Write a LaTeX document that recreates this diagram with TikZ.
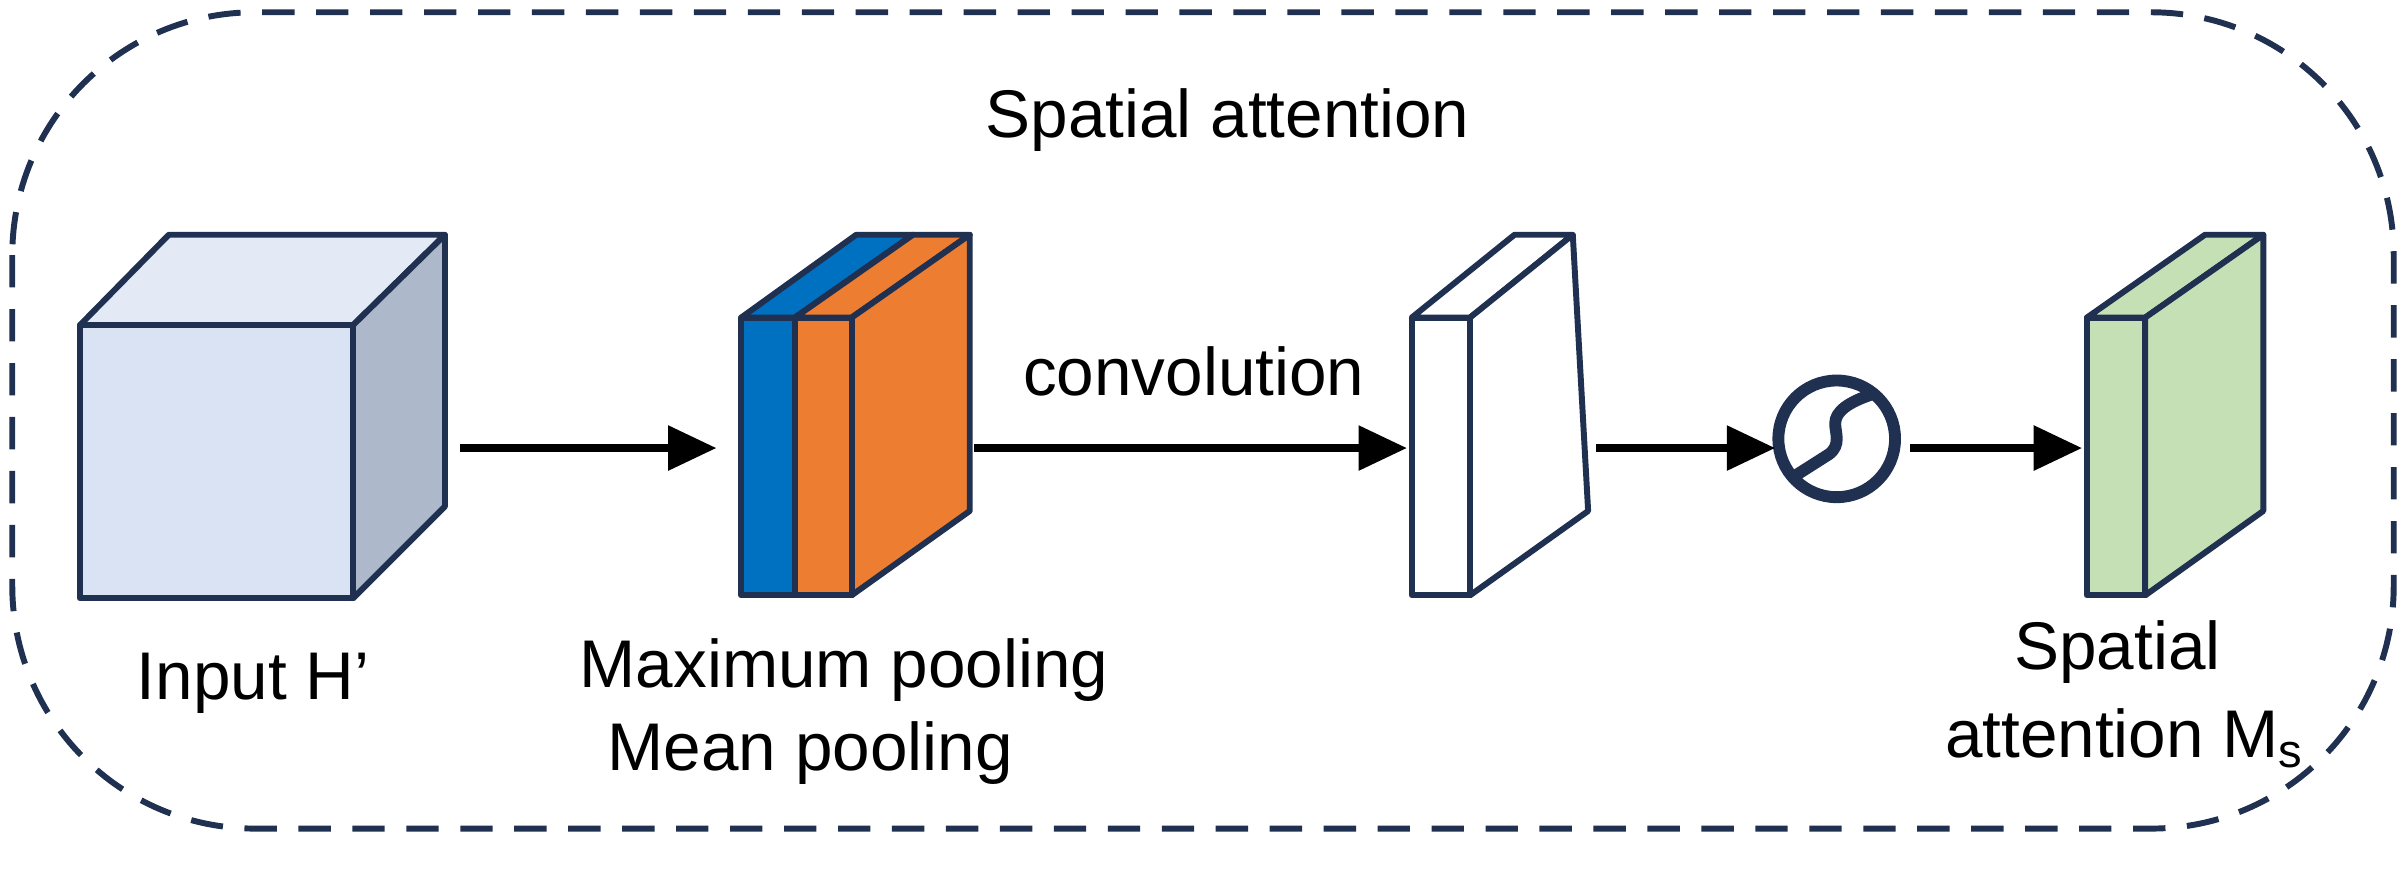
\documentclass[tikz,border=0pt]{standalone}
\usepackage{fontspec}
\setmainfont{Liberation Sans}
\usetikzlibrary{arrows.meta}
\definecolor{navy}{HTML}{1F3050}
\definecolor{cfront}{HTML}{DAE3F3}
\definecolor{ctop}{HTML}{E4EAF5}
\definecolor{cside}{HTML}{ADB9CA}
\definecolor{cblue}{HTML}{0070C0}
\definecolor{corange}{HTML}{ED7D31}
\definecolor{cgreen}{HTML}{C5E0B4}
\begin{document}
\begin{tikzpicture}[x=0.01cm,y=-0.01cm,
  face/.style={draw=navy,line width=1.1pt,line join=round},
  arr/.style={line width=1.6pt,-{Triangle[length=9pt,width=8pt]}},
  lbl/.style={font=\fontsize{12.5pt}{15pt}\selectfont,inner sep=0pt}]
\useasboundingbox (0,0) rectangle (1568,573);
\draw[navy,line width=1.1pt,dash pattern=on 6pt off 4pt,rounded corners=45] (8,8) rectangle (1560,540);
\node[lbl] (title) at (800,78) {Spatial attention};
% cube
\filldraw[face,fill=ctop] (52,212) -- (110,153) -- (290,153) -- (230,212) -- cycle;
\filldraw[face,fill=cside] (230,212) -- (290,153) -- (290,330) -- (230,390) -- cycle;
\filldraw[face,fill=cfront] (52,212) rectangle (230,390);
\node[lbl] (inp) at (165,445) {Input H’};
\coordinate (cubeR) at (300,292);
% pooling
\filldraw[face,fill=cblue] (483,207) -- (558,153) -- (595,153) -- (518,207) -- cycle;
\filldraw[face,fill=corange] (518,207) -- (595,153) -- (632,153) -- (555,207) -- cycle;
\filldraw[face,fill=corange] (555,207) -- (632,153) -- (632,333) -- (555,388) -- cycle;
\filldraw[face,fill=cblue] (483,207) rectangle (518,388);
\filldraw[face,fill=corange] (518,207) rectangle (555,388);
\coordinate (poolL) at (467,292);
\coordinate (poolR) at (635,292);
\node[lbl] (pl1) at (550,437) {Maximum pooling};
\node[lbl] (pl2) at (528,491) {Mean pooling};
% conv slab
\filldraw[face,fill=white] (920,207) -- (987,153) -- (1025,153) -- (958,207) -- cycle;
\filldraw[face,fill=white] (958,207) -- (1025,153) -- (1035,333) -- (958,388) -- cycle;
\filldraw[face,fill=white] (920,207) rectangle (958,388);
\coordinate (convL) at (917,292);
\coordinate (convR) at (1040,292);
\node[lbl] (conv) at (778,242) {convolution};
% sigmoid
\node[draw=navy,line width=2.2pt,circle,minimum size=0.76cm,inner sep=0pt] (sig) at (1197,286) {};
\draw[navy,line width=2.2pt,line join=round] (1170,310) -- (1192,296) .. controls (1200,290) and (1196,282) .. (1196,276) .. controls (1196,268) and (1205,262) .. (1220,257);
\coordinate (sigL) at (1157,292);
\coordinate (sigR) at (1245,292);
% green slab
\filldraw[face,fill=cgreen] (1360,207) -- (1437,153) -- (1475,153) -- (1398,207) -- cycle;
\filldraw[face,fill=cgreen] (1398,207) -- (1475,153) -- (1475,333) -- (1398,388) -- cycle;
\filldraw[face,fill=cgreen] (1360,207) rectangle (1398,388);
\coordinate (greenL) at (1357,292);
\node[lbl] (out1) at (1380,425) {Spatial};
\node[lbl] (out2) at (1385,481) {attention M\textsubscript{s}};
% arrows
\draw[arr] (cubeR) -- (poolL);
\draw[arr] (poolR) -- (convL);
\draw[arr] (convR) -- (sigL);
\draw[arr] (sigR) -- (greenL);
\end{tikzpicture}
\end{document}
